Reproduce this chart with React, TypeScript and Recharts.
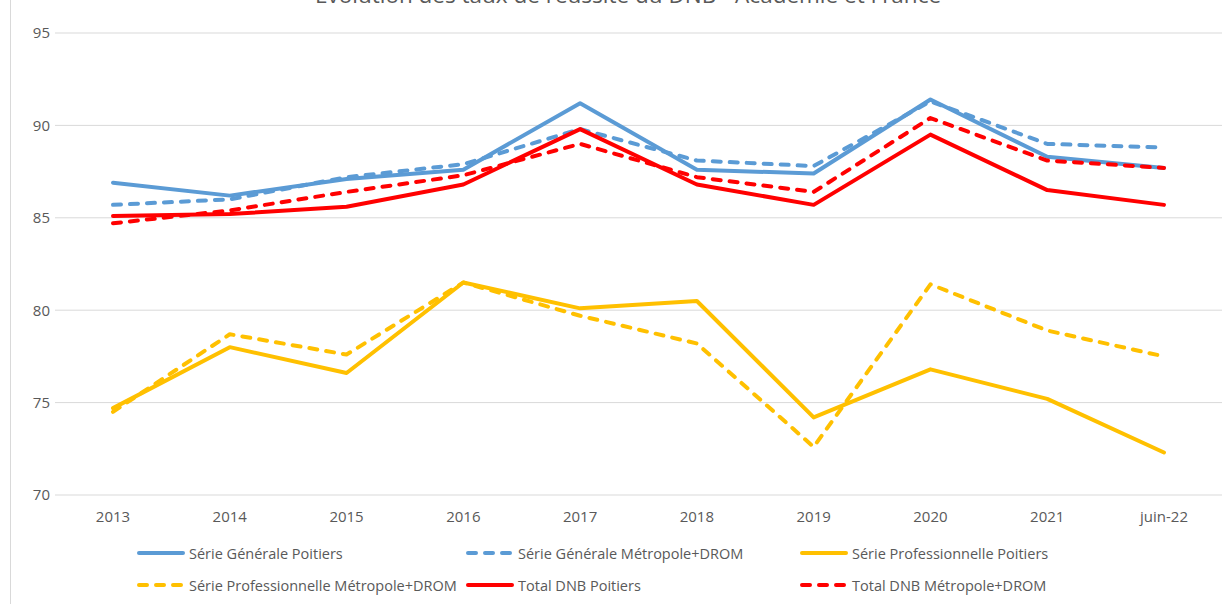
import { LineChart, Line, XAxis, YAxis, CartesianGrid } from "recharts";

const years = ["2013", "2014", "2015", "2016", "2017", "2018", "2019", "2020", "2021", "juin-22"];
const generalePoitiers = [86.9, 86.2, 87.1, 87.6, 91.2, 87.6, 87.4, 91.4, 88.3, 87.7];
const generaleFrance = [85.7, 86.0, 87.2, 87.9, 89.8, 88.1, 87.8, 91.3, 89.0, 88.8];
const proPoitiers = [74.7, 78.0, 76.6, 81.5, 80.1, 80.5, 74.2, 76.8, 75.2, 72.3];
const proFrance = [74.5, 78.7, 77.6, 81.5, 79.7, 78.2, 72.6, 81.4, 78.9, 77.5];
const totalPoitiers = [85.1, 85.2, 85.6, 86.8, 89.8, 86.8, 85.7, 89.5, 86.5, 85.7];
const totalFrance = [84.7, 85.4, 86.4, 87.3, 89.0, 87.2, 86.4, 90.4, 88.1, 87.7];
const yTicks = [70, 75, 80, 85, 90, 95];

const series = [
  { key: "gp", name: "Série Générale Poitiers", color: "#5B9BD5", dashed: false, values: generalePoitiers },
  { key: "gf", name: "Série Générale Métropole+DROM", color: "#5B9BD5", dashed: true, values: generaleFrance },
  { key: "pp", name: "Série Professionnelle Poitiers", color: "#FFC000", dashed: false, values: proPoitiers },
  { key: "pf", name: "Série Professionnelle Métropole+DROM", color: "#FFC000", dashed: true, values: proFrance },
  { key: "tp", name: "Total DNB Poitiers", color: "#FF0000", dashed: false, values: totalPoitiers },
  { key: "tf", name: "Total DNB Métropole+DROM", color: "#FF0000", dashed: true, values: totalFrance },
];

const data = years.map((year, i) => {
  const row: Record<string, string | number> = { year };
  series.forEach((s) => (row[s.key] = s.values[i]));
  return row;
});

const FONT = "'Open Sans', sans-serif";
const TEXT = "#595959";
const legendCols = [137, 466, 800];
const legendRows = [553, 585];

export default function App() {
  return (
    <div style={{ position: "relative", width: 1232, height: 604, fontFamily: FONT, overflow: "hidden", background: "#fff" }}>
      <style>{"body{margin:0}"}</style>
      <div style={{ position: "absolute", left: 10, top: 0, bottom: 0, borderLeft: "1px solid #d9d9d9" }} />
      <div
        style={{
          position: "absolute",
          top: -18,
          left: 0,
          width: 1256,
          textAlign: "center",
          fontSize: 22.5,
          lineHeight: "26px",
          color: TEXT,
        }}
      >
        Évolution des taux de réussite du DNB - Académie et France
      </div>
      <LineChart width={1232} height={604} data={data} margin={{ top: 33, right: 10, left: 0, bottom: 79 }}>
        <CartesianGrid vertical={false} stroke="#d9d9d9" />
        <XAxis
          dataKey="year"
          axisLine={false}
          tickLine={false}
          tickSize={0}
          tickMargin={16}
          height={30}
          interval={0}
          padding={{ left: 58, right: 58 }}
          tick={{ fill: TEXT, fontSize: 15, fontFamily: FONT }}
        />
        <YAxis
          domain={[70, 95]}
          ticks={yTicks}
          axisLine={false}
          tickLine={false}
          tickSize={0}
          tickMargin={5}
          width={55}
          tick={{ fill: TEXT, fontSize: 15, fontFamily: FONT }}
        />
        {series.map((s) => (
          <Line
            key={s.key}
            dataKey={s.key}
            name={s.name}
            stroke={s.color}
            strokeWidth={4}
            strokeDasharray={s.dashed ? "8 9" : undefined}
            strokeLinecap="round"
            strokeLinejoin="round"
            dot={false}
            activeDot={false}
            isAnimationActive={false}
          />
        ))}
      </LineChart>
      {series.map((s, i) => (
        <div
          key={s.key}
          style={{
            position: "absolute",
            left: legendCols[i % 3],
            top: legendRows[Math.floor(i / 3)] - 10,
            height: 20,
            display: "flex",
            alignItems: "center",
            fontSize: 14.5,
            color: TEXT,
            whiteSpace: "nowrap",
          }}
        >
          <svg width={48} height={20} style={{ marginRight: 4 }}>
            <line
              x1={2}
              y1={10}
              x2={46}
              y2={10}
              stroke={s.color}
              strokeWidth={4}
              strokeLinecap="round"
              strokeDasharray={s.dashed ? "8 9" : undefined}
            />
          </svg>
          {s.name}
        </div>
      ))}
    </div>
  );
}
